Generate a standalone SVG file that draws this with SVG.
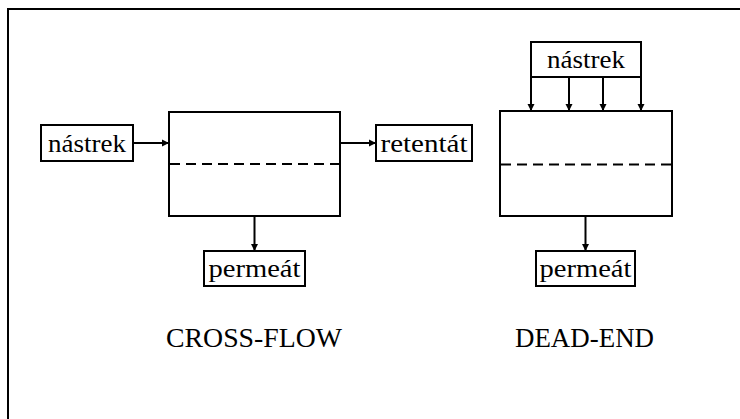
<svg xmlns="http://www.w3.org/2000/svg" width="740" height="419" viewBox="0 0 740 419">
<style>
.box{fill:#fff;stroke:#000;stroke-width:2}
.dash{stroke:#000;stroke-width:2;stroke-dasharray:10 6;fill:none}
.con{stroke:#000;stroke-width:2;fill:none;marker-end:url(#ah)}
.lbl{font-family:"Liberation Serif",serif;font-size:26px;fill:#000;text-anchor:middle}
.ttl{font-family:"Liberation Serif",serif;font-size:28px;fill:#000;text-anchor:middle}
</style>
<defs>
<marker id="ah" markerUnits="userSpaceOnUse" markerWidth="9" markerHeight="9" refX="7" refY="4.5" orient="auto">
<path d="M0,1 L7,4.5 L0,8 Z" fill="#000"/>
</marker>
</defs>
<rect x="0" y="0" width="740" height="419" fill="#fff"/>
<path d="M8,419 L8,9 L740,9" fill="none" stroke="#000" stroke-width="2"/>

<g id="cf-module">
<rect class="box" x="169" y="112" width="171" height="104"/>
<line class="dash" x1="170" y1="164" x2="339" y2="164"/>
</g>
<g id="cf-nastrek">
<rect class="box" x="41" y="125" width="92" height="36"/>
<text class="lbl" x="87" y="152" textLength="78" lengthAdjust="spacingAndGlyphs">nástrek</text>
</g>
<g id="cf-retentat">
<rect class="box" x="376" y="125" width="96" height="36"/>
<text class="lbl" x="424" y="152" textLength="87" lengthAdjust="spacingAndGlyphs">retentát</text>
</g>
<g id="cf-permeat">
<rect class="box" x="204" y="251" width="101" height="35"/>
<text class="lbl" x="254.5" y="277" textLength="92" lengthAdjust="spacingAndGlyphs">permeát</text>
</g>
<g id="cf-title">
<text class="ttl" x="254" y="347" textLength="176" lengthAdjust="spacingAndGlyphs">CROSS-FLOW</text>
</g>

<g id="de-module">
<rect class="box" x="500" y="111" width="172" height="105"/>
<line class="dash" x1="501" y1="164.5" x2="671" y2="164.5"/>
</g>
<g id="de-nastrek">
<rect class="box" x="531" y="42" width="110" height="35"/>
<text class="lbl" x="586" y="68" textLength="78" lengthAdjust="spacingAndGlyphs">nástrek</text>
</g>
<g id="de-permeat">
<rect class="box" x="536" y="251" width="99" height="35"/>
<text class="lbl" x="585.5" y="277" textLength="92" lengthAdjust="spacingAndGlyphs">permeát</text>
</g>
<g id="de-title">
<text class="ttl" x="584.5" y="347" textLength="139" lengthAdjust="spacingAndGlyphs">DEAD-END</text>
</g>

<g id="connectors">
<line class="con" x1="134" y1="143" x2="169" y2="143"/>
<line class="con" x1="341" y1="143" x2="376" y2="143"/>
<line class="con" x1="254.5" y1="217" x2="254.5" y2="251"/>
<line class="con" x1="531" y1="78" x2="531" y2="111"/>
<line class="con" x1="569" y1="78" x2="569" y2="111"/>
<line class="con" x1="603" y1="78" x2="603" y2="111"/>
<line class="con" x1="641" y1="78" x2="641" y2="111"/>
<line class="con" x1="585.5" y1="217" x2="585.5" y2="251"/>
</g>
</svg>
